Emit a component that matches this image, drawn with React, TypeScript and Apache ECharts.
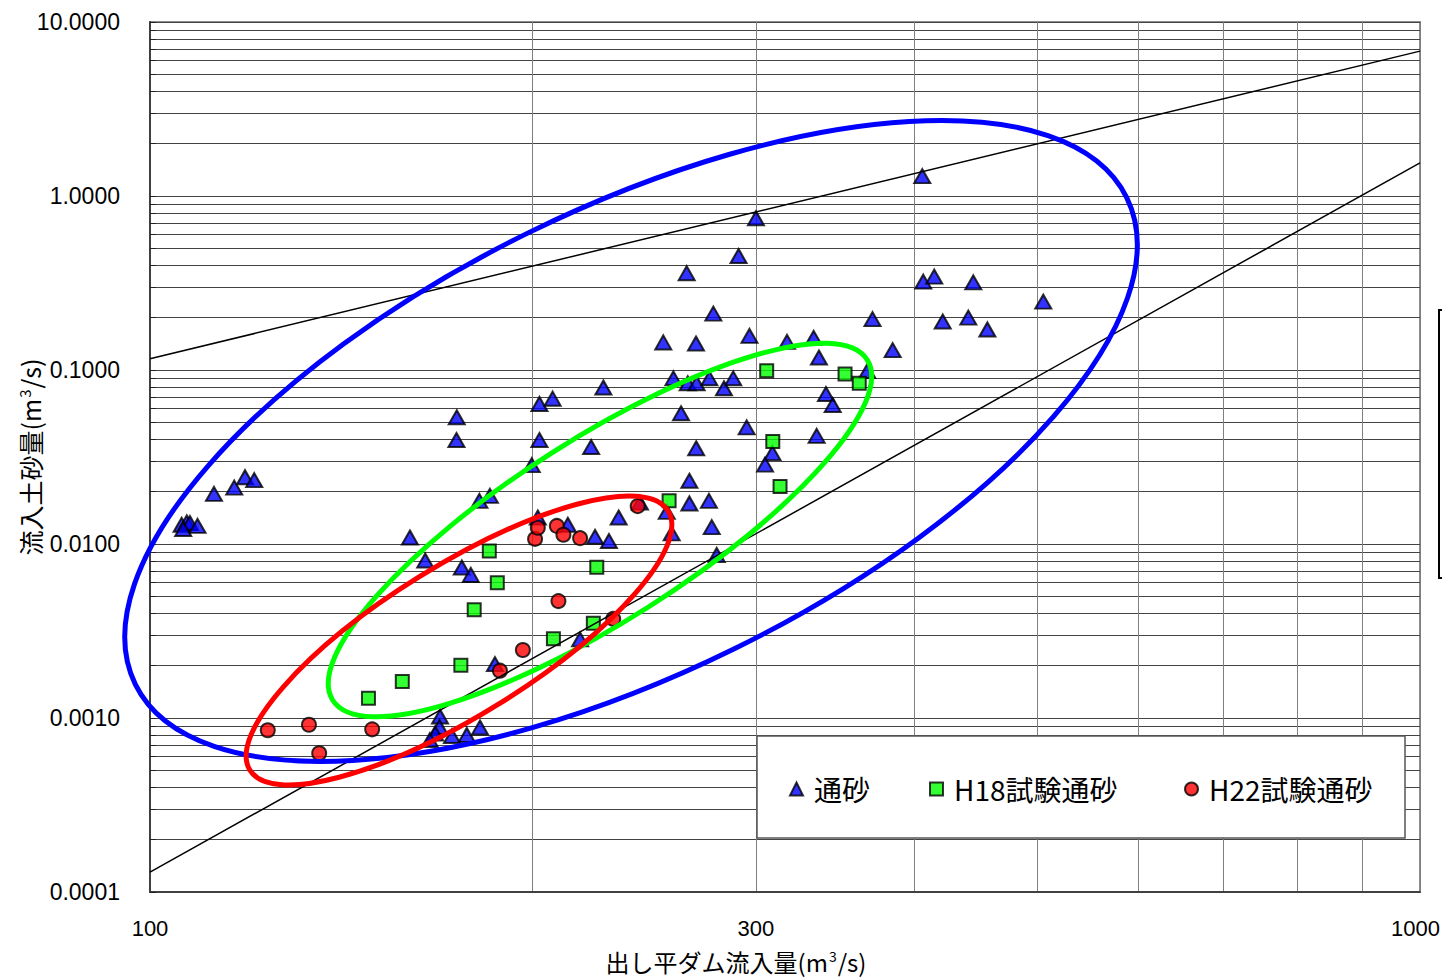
import React, { useEffect, useRef } from "react";
import * as echarts from "echarts";

// ---- axis ticks / labels ----
const xTickValues = [100, 200, 300, 400, 500, 600, 700, 800, 900, 1000];
const xLabelValues = [100, 300, 1000];
const yTickValues = [
  0.0001, 0.0002, 0.0003, 0.0004, 0.0005, 0.0006, 0.0007, 0.0008, 0.0009,
  0.001, 0.002, 0.003, 0.004, 0.005, 0.006, 0.007, 0.008, 0.009,
  0.01, 0.02, 0.03, 0.04, 0.05, 0.06, 0.07, 0.08, 0.09,
  0.1, 0.2, 0.3, 0.4, 0.5, 0.6, 0.7, 0.8, 0.9,
  1, 2, 3, 4, 5, 6, 7, 8, 9, 10,
];
const yLabelValues = [0.0001, 0.001, 0.01, 0.1, 1, 10];

// ---- series names ----
const seriesNames = ["通砂", "H18試験通砂", "H22試験通砂"];

// ---- data: [流入量 m3/s, 流入土砂量 m3/s] ----
const tsuusa = [
  [105.9, 0.0129], [106.9, 0.0133], [107.5, 0.0132], [106.2, 0.0122], [109.0, 0.0127],
  [112.3, 0.0194], [116.5, 0.0211], [118.8, 0.0242], [120.8, 0.0233],
  [160.2, 0.0109], [164.7, 0.00804], [174.4, 0.0535], [174.3, 0.0396], [176.0, 0.00733], [178.9, 0.00664],
  [169.2, 0.00102], [169.0, 0.000888], [167.7, 0.000815], [166.1, 0.000747], [172.9, 0.000788], [177.6, 0.000799], [181.9, 0.000882],
  [186.9, 0.00204], [181.7, 0.0177], [185.2, 0.0189], [199.8, 0.0284], [202.6, 0.0638], [207.5, 0.0684], [227.5, 0.0793],
  [202.6, 0.0396], [222.5, 0.0361],
  [202.0, 0.0142], [213.3, 0.0129], [224.1, 0.011], [229.8, 0.0104], [233.9, 0.0142], [243.1, 0.0173], [218.1, 0.00283],
  [290.7, 0.452], [264.6, 0.36], [277.7, 0.211], [253.6, 0.144], [269.1, 0.142], [296.5, 0.157], [317.4, 0.145],
  [258.3, 0.0896], [265.1, 0.0839], [269.4, 0.0839], [275.7, 0.0896], [283.1, 0.0785], [287.9, 0.0896],
  [261.9, 0.0564], [295.0, 0.0468], [269.2, 0.0355], [309.1, 0.0333], [305.0, 0.0286],
  [265.9, 0.0231], [265.9, 0.0171], [275.5, 0.0177], [255.2, 0.0153], [257.5, 0.0115], [276.9, 0.0125], [279.4, 0.00865],
  [370.6, 0.196], [384.4, 0.13], [333.1, 0.153], [336.3, 0.118], [367.1, 0.0987], [340.6, 0.0728], [344.8, 0.0629], [334.9, 0.0418],
  [405.6, 1.3], [300.0, 0.745], [406.3, 0.322], [414.5, 0.344], [444.9, 0.319], [505.1, 0.247], [420.9, 0.19], [440.9, 0.2], [456.4, 0.171],
];
const h18 = [
  [148.6, 0.0013], [158.0, 0.00162], [175.7, 0.00201], [180.0, 0.00419], [187.7, 0.00599],
  [185.0, 0.00912], [207.8, 0.00285], [223.4, 0.0035], [224.8, 0.00735], [256.3, 0.0177],
  [305.9, 0.0991], [309.3, 0.0388], [313.4, 0.0214], [352.6, 0.0948], [361.8, 0.0839],
];
const h22 = [
  [123.8, 0.00085], [133.4, 0.000915], [135.9, 0.000627], [149.6, 0.000861], [188.6, 0.00187],
  [196.6, 0.00246], [209.7, 0.0047], [231.6, 0.00371], [201.0, 0.0107], [202.0, 0.0124],
  [209.1, 0.0127], [211.6, 0.0113], [218.1, 0.0108], [242.1, 0.0165],
];

// ---- reference lines (end points) ----
const upperLine = [[100, 0.116], [1000, 6.8]];
const lowerLine = [[100, 0.00013], [1000, 1.55]];

// ---- ellipse annotations: centre in data coords ----
const ellipseCentres = [
  [239.2, 0.0391],
  [226.1, 0.01203],
  [175.1, 0.002789],
];
const ellipseColors = ["#0000ff", "#00ff00", "#ff0000"];
const ellipseRx = [552, 317, 246];
const ellipseRy = [232, 91, 75];
const ellipseRotDeg = [26.15, 32.5, 31.8];

const CJK = "'Noto Sans CJK JP', 'Noto Sans', sans-serif";
const LATIN = "'Liberation Sans', Arial, sans-serif";

export default function App() {
  const ref = useRef<HTMLDivElement>(null);
  useEffect(() => {
    document.body.style.margin = "0";
    const chart = echarts.init(ref.current!, null, { renderer: "svg" });
    const legendCommon = {
      orient: "horizontal",
      top: 775,
      padding: 0,
      itemWidth: 13,
      itemHeight: 13,
      selectedMode: false,
      textStyle: { fontSize: 28, fontFamily: CJK, color: "#000", padding: [0, 0, 0, 6] },
    };
    const option: any = {
      animation: false,
      backgroundColor: "#fff",
      grid: {
        left: 150,
        top: 22,
        right: 22,
        bottom: 85,
        show: true,
        borderColor: "#8c8c8c",
        borderWidth: 2,
        outerBoundsMode: "none",
        containLabel: false,
      },
      legend: [
        { ...legendCommon, data: [seriesNames[0]], left: 789 },
        { ...legendCommon, data: [seriesNames[1]], left: 929 },
        { ...legendCommon, data: [seriesNames[2]], left: 1184 },
      ],
      xAxis: {
        type: "log",
        logBase: 10,
        min: 100,
        max: 1000,
        axisLine: { show: true, lineStyle: { color: "#404040", width: 2 } },
        axisTick: { show: false, customValues: xTickValues },
        axisLabel: {
          customValues: xLabelValues,
          fontSize: 22,
          fontFamily: LATIN,
          color: "#000",
          margin: 25,
          formatter: (v: number) => (Math.round(v) === 1000 ? "{last|1000}" : String(Math.round(v))),
          rich: {
            last: { fontSize: 22, fontFamily: LATIN, color: "#000", padding: [0, 9, 0, 0] },
          },
        },
        splitLine: { show: true, lineStyle: { color: "#808080", width: 1 } },
      },
      yAxis: {
        type: "log",
        logBase: 10,
        min: 0.0001,
        max: 10,
        axisLine: { show: true, lineStyle: { color: "#404040", width: 2 } },
        axisTick: {
          show: true,
          inside: true,
          length: 6,
          customValues: yTickValues,
          lineStyle: { color: "#222", width: 1 },
        },
        axisLabel: {
          customValues: yLabelValues,
          fontSize: 23,
          fontFamily: LATIN,
          color: "#000",
          margin: 30,
          formatter: (v: number) => v.toFixed(4),
        },
        splitLine: { show: true, lineStyle: { color: "#444", width: 1 } },
      },
      series: [
        {
          name: seriesNames[0],
          type: "scatter",
          symbol: "triangle",
          symbolSize: [16, 14],
          data: tsuusa,
          z: 2,
          itemStyle: { color: "#0000ff", borderColor: "#000", borderWidth: 2 },
        },
        {
          name: seriesNames[1],
          type: "scatter",
          symbol: "rect",
          symbolSize: 13,
          data: h18,
          z: 3,
          itemStyle: { color: "#00ff00", borderColor: "#000", borderWidth: 2 },
        },
        {
          name: seriesNames[2],
          type: "scatter",
          symbol: "circle",
          symbolSize: 14,
          data: h22,
          z: 4,
          itemStyle: { color: "#ff0000", borderColor: "#000", borderWidth: 2 },
        },
        {
          name: "upper",
          type: "line",
          data: upperLine,
          symbol: "none",
          z: 5,
          lineStyle: { color: "#000", width: 1.5 },
          silent: true,
        },
        {
          name: "lower",
          type: "line",
          data: lowerLine,
          symbol: "none",
          z: 5,
          lineStyle: { color: "#000", width: 1.5 },
          silent: true,
        },
      ],
    };
    chart.setOption(option);

    const ellipses = ellipseCentres.map((c, i) => {
      const p = chart.convertToPixel({ gridIndex: 0 }, c) as number[];
      return {
        type: "ellipse",
        x: p[0],
        y: p[1],
        rotation: (ellipseRotDeg[i] * Math.PI) / 180,
        shape: { cx: 0, cy: 0, rx: ellipseRx[i], ry: ellipseRy[i] },
        style: { fill: "none", stroke: ellipseColors[i], lineWidth: 5 },
        z: 100,
        silent: true,
      };
    });

    chart.setOption({
      graphic: [
        {
          type: "rect",
          shape: { x: 757, y: 736, width: 648, height: 102 },
          style: { fill: "#fff", stroke: "#555", lineWidth: 1.5 },
          z: 3,
          silent: true,
        },
        {
          type: "rect",
          shape: { x: 1439, y: 310, width: 40, height: 268 },
          style: { fill: "#fff", stroke: "#000", lineWidth: 2 },
          z: 3,
          silent: true,
        },
        {
          type: "text",
          x: 736,
          y: 961,
          style: {
            text: "出し平ダム流入量(m{sup|3}/s)",
            fontSize: 24,
            fontFamily: CJK,
            fill: "#000",
            align: "center",
            verticalAlign: "middle",
            rich: {
              sup: { fontSize: 14, fontFamily: CJK, verticalAlign: "top", lineHeight: 24, padding: [0, 1, 0, 1] },
            },
          },
          z: 10,
          silent: true,
        },
        {
          type: "text",
          x: 30,
          y: 457,
          rotation: Math.PI / 2,
          style: {
            text: "流入土砂量(m{sup|3}/s)",
            fontSize: 25,
            fontFamily: CJK,
            fill: "#000",
            align: "center",
            verticalAlign: "middle",
            rich: {
              sup: { fontSize: 15, fontFamily: CJK, verticalAlign: "top", lineHeight: 26, padding: [0, 1, 0, 1] },
            },
          },
          z: 10,
          silent: true,
        },
        ...ellipses,
      ],
    });

    return () => chart.dispose();
  }, []);
  return <div ref={ref} style={{ width: 1442, height: 977 }} />;
}
